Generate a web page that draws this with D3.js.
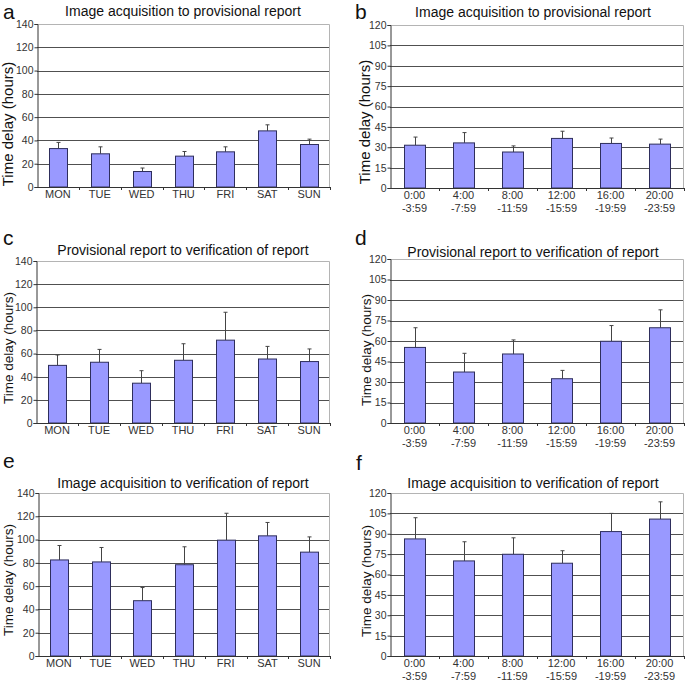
<!DOCTYPE html>
<html lang="en">
<head>
<meta charset="UTF-8">
<title>Time delay panels</title>
<script src="https://d3js.org/d3.v7.min.js"></script>
<style>
  body { margin: 0; background: #fff; }
  svg { display: block; font-family: "Liberation Sans", Arial, sans-serif; }
</style>
</head>
<body>
<svg id="chart" width="685" height="681"></svg>
<script>
// categories
var days = ["MON", "TUE", "WED", "THU", "FRI", "SAT", "SUN"];
var hourBins = ["0:00|-3:59", "4:00|-7:59", "8:00|-11:59", "12:00|-15:59", "16:00|-19:59", "20:00|-23:59"];

// y ticks
var dayTicks = [0, 20, 40, 60, 80, 100, 120, 140];
var hourTicks = [0, 15, 30, 45, 60, 75, 90, 105, 120];

// a: image acquisition -> provisional report, by day
var aMean = [33, 28.5, 13.3, 26.5, 30.2, 48.2, 36.5];
var aUpper = [38.3, 34.5, 16.3, 30.5, 34.5, 53.4, 41.1];
// b: same, by hour
var bMean = [31.5, 33.2, 26.5, 36.5, 32.8, 32.3];
var bUpper = [37.5, 40.8, 31, 41.8, 36.8, 36];
// c: provisional -> verification, by day
var cMean = [49.8, 52.5, 34.4, 54.2, 71.6, 55.3, 53.1];
var cUpper = [58.8, 63.6, 45.2, 68.5, 95.7, 66.2, 64];
// d: same, by hour
var dMean = [55.3, 37.3, 50.5, 32.4, 59.8, 69.7];
var dUpper = [69.7, 51, 60.8, 38.5, 71.3, 82.8];
// e: acquisition -> verification, by day
var eMean = [82.5, 80.8, 47.5, 78.4, 99.5, 103.2, 89.2];
var eUpper = [94.9, 93.2, 58.8, 93.8, 122.6, 114.7, 102.3];
// f: same, by hour
var fMean = [86.2, 70, 74.9, 68.3, 91.6, 100.8];
var fUpper = [101.8, 84.1, 87, 77.5, 105, 113.5];

var panels = [
  {letter: "a", title: "Image acquisition to provisional report", cats: days, ticks: dayTicks, mean: aMean, upper: aUpper,
   box: [37, 24, 330, 187], lx: 3, ly: 19, tx: 183, ty: 16, ylx: 8, yly: 124, ylSize: 15},
  {letter: "b", title: "Image acquisition to provisional report", cats: hourBins, ticks: hourTicks, mean: bMean, upper: bUpper,
   box: [390, 25, 684, 188], lx: 355, ly: 19, tx: 533, ty: 17, ylx: 365, yly: 122, ylSize: 15},
  {letter: "c", title: "Provisional report to verification of report", cats: days, ticks: dayTicks, mean: cMean, upper: cUpper,
   box: [36, 261, 330, 423], lx: 3, ly: 245, tx: 183, ty: 255, ylx: 8, yly: 348, ylSize: 13.5},
  {letter: "d", title: "Provisional report to verification of report", cats: hourBins, ticks: hourTicks, mean: dMean, upper: dUpper,
   box: [390, 259, 684, 423], lx: 355, ly: 245, tx: 533, ty: 257, ylx: 366, yly: 350, ylSize: 13.5},
  {letter: "e", title: "Image acquisition to verification of report", cats: days, ticks: dayTicks, mean: eMean, upper: eUpper,
   box: [38, 493, 330, 656], lx: 3, ly: 468, tx: 183, ty: 488, ylx: 8, yly: 580, ylSize: 13.5},
  {letter: "f", title: "Image acquisition to verification of report", cats: hourBins, ticks: hourTicks, mean: fMean, upper: fUpper,
   box: [390, 493, 684, 656], lx: 356, ly: 470, tx: 533, ty: 488, ylx: 366, yly: 581, ylSize: 13.5}
];

var svg = d3.select("#chart");

panels.forEach(drawPanel);

function drawPanel(p) {
  var x0 = p.box[0], y0 = p.box[1], x1 = p.box[2], y1 = p.box[3];
  var g = svg.append("g");

  var x = d3.scaleBand().domain(p.cats).range([x0, x1]).paddingInner(0.57).paddingOuter(0.285);
  var y = d3.scaleLinear().domain([0, d3.max(p.ticks)]).range([y1, y0]);

  // plot frame (light) on top / right
  g.append("path")
    .attr("d", "M" + x0 + "," + (y0 + 0.5) + "H" + (x1 - 0.5) + "V" + y1)
    .attr("fill", "none").attr("stroke", "#b4b4b4").attr("stroke-width", 1);

  // gridlines
  g.selectAll(".grid").data(p.ticks.slice(1, -1)).enter().append("line")
    .attr("x1", x0).attr("x2", x1 - 1)
    .attr("y1", function(d) { return Math.round(y(d)) + 0.5; })
    .attr("y2", function(d) { return Math.round(y(d)) + 0.5; })
    .attr("stroke", "#505050").attr("stroke-width", 1);

  // error bars (upper only)
  var cat = p.cats;
  cat.forEach(function(c, i) {
    var cx = Math.round(x(c) + x.bandwidth() / 2) + 0.5;
    g.append("line").attr("x1", cx).attr("x2", cx)
      .attr("y1", y(p.mean[i])).attr("y2", y(p.upper[i]))
      .attr("stroke", "#444").attr("stroke-width", 1);
    g.append("line").attr("x1", cx - 2).attr("x2", cx + 2)
      .attr("y1", y(p.upper[i])).attr("y2", y(p.upper[i]))
      .attr("stroke", "#444").attr("stroke-width", 1);
  });

  // bars
  g.selectAll(".bar").data(p.mean).enter().append("rect")
    .attr("x", function(d, i) { return Math.round(x(cat[i])) + 0.5; })
    .attr("width", Math.round(x.bandwidth()))
    .attr("y", function(d) { return y(d); })
    .attr("height", function(d) { return y1 - y(d); })
    .attr("fill", "#9999ff").attr("stroke", "#2e2e5c").attr("stroke-width", 1);

  // y axis
  var yAxis = d3.axisLeft(y).tickValues(p.ticks).tickSize(3).tickPadding(1);
  var ya = g.append("g").attr("transform", "translate(" + (x0 + 0.5) + ",0)").call(yAxis);
  ya.select(".domain").attr("stroke", "#333");
  ya.selectAll(".tick line").attr("stroke", "#333");
  ya.selectAll("text").attr("font-size", 10.5).attr("fill", "#333")
    .attr("font-family", "Liberation Sans, Arial, sans-serif");

  // x axis: ticks between categories
  g.append("line").attr("x1", x0).attr("x2", x1)
    .attr("y1", y1 + 0.5).attr("y2", y1 + 0.5).attr("stroke", "#333");
  d3.range(1, cat.length + 1).forEach(function(k) {
    var tx = Math.round(x0 + k * (x1 - x0) / cat.length) + 0.5;
    g.append("line").attr("x1", tx).attr("x2", tx).attr("y1", y1).attr("y2", y1 + 3)
      .attr("stroke", "#333");
  });

  cat.forEach(function(c) {
    var parts = c.split("|");
    var t = g.append("text")
      .attr("x", x(c) + x.bandwidth() / 2).attr("y", y1 + 11)
      .attr("text-anchor", "middle").attr("font-size", 11).attr("fill", "#333");
    parts.forEach(function(s, j) {
      t.append("tspan").attr("x", x(c) + x.bandwidth() / 2).attr("dy", j === 0 ? 0 : 13).text(s);
    });
  });

  // title
  g.append("text").attr("x", p.tx).attr("y", p.ty).attr("text-anchor", "middle")
    .attr("font-size", 14).attr("fill", "#111").text(p.title);

  // y label
  g.append("text")
    .attr("transform", "translate(" + (p.ylx + p.ylSize * 0.36) + "," + p.yly + ") rotate(-90)")
    .attr("text-anchor", "middle").attr("font-size", p.ylSize).attr("fill", "#111")
    .text("Time delay (hours)");

  // panel letter
  g.append("text").attr("x", p.lx).attr("y", p.ly).attr("font-size", 21).attr("fill", "#111")
    .text(p.letter);
}
</script>
</body>
</html>
